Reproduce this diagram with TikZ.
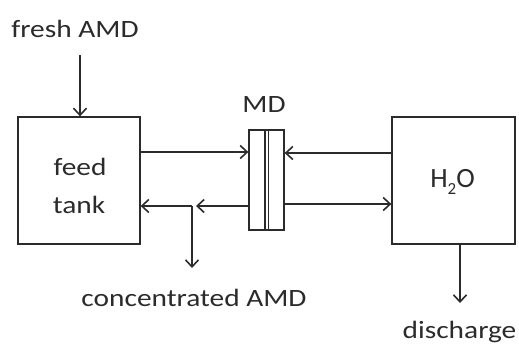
\documentclass[tikz,border=0pt]{standalone}
\usepackage{fontspec}
\setmainfont{Carlito}[FakeStretch=1.18]
\newfontfamily\plainfont{Carlito}
\usetikzlibrary{arrows.meta}
\definecolor{ink}{HTML}{2B2B2B}
\begin{document}
\begin{tikzpicture}[x=1bp,y=-1bp,line width=1.3bp,
  box/.style={draw=ink,inner sep=0pt},
  arr/.style={draw=ink,-{Straight Barb[length=7bp,width=13bp,line width=1.6bp]}},
  lbl/.style={text=ink,font=\fontsize{25}{30}\selectfont,inner sep=0pt,anchor=base}]
\useasboundingbox (0,0) rectangle (519,345);
\node[box,minimum width=122bp,minimum height=127bp] (feed) at (79,180.5) {};
\node[lbl] (feedtxt) at (80,175) {feed};
\node[lbl] (tanktxt) at (79,213) {tank};
\node[box,minimum width=35bp,minimum height=100bp] (md) at (266.5,180) {};
\draw[ink] ([xshift=-1.5bp]md.north) -- ([xshift=-1.5bp]md.south);
\draw[ink] ([xshift=2bp]md.north) -- ([xshift=2bp]md.south);
\node[lbl] (mdtxt) at (264,112) {MD};
\node[box,minimum width=123bp,minimum height=127bp] (h2o) at (453.5,180.5) {};
\node[lbl,font=\plainfont\fontsize{28}{32}\selectfont] (h2otxt) at (452.5,187) {H\raisebox{-7bp}{\fontsize{17}{20}\selectfont 2}O};
\node[lbl] (fresh) at (75,37) {fresh AMD};
\node[lbl] (conc) at (194,306) {concentrated AMD};
\node[lbl] (disch) at (459.5,338) {discharge};
\coordinate (fin) at (80,55);
\coordinate (j) at (192,206);
\coordinate (cout) at (192,268);
\coordinate (dout) at (460,303);
\draw[arr] (fin) -- (fin |- feed.north);
\draw[arr] (feed.east |- 0,152) -- (md.west |- 0,152);
\draw[arr] (h2o.west |- 0,153) -- (md.east |- 0,153);
\draw[arr] (md.east |- 0,204) -- (h2o.west |- 0,204);
\draw[arr] (md.west |- j) -- ([xshift=4bp]j);
\draw[arr] (j) -- (feed.east |- j);
\draw[arr] (j) -- (cout);
\draw[arr] (dout |- h2o.south) -- (dout);
\end{tikzpicture}
\end{document}
